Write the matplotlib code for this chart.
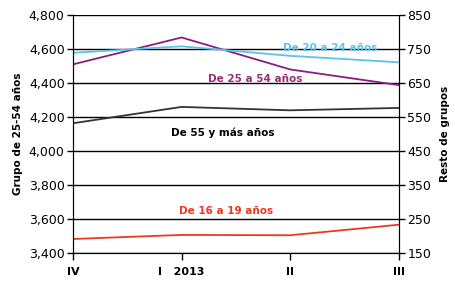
import matplotlib.pyplot as plt

quarters = ['IV', 'I   2013', 'II', 'III']
grupo_25_54 = [4510, 4668, 4480, 4388]
de_20_24 = [739, 758, 730, 711]
de_55_mas = [532, 580, 570, 577]
de_16_19 = [192, 204, 203, 234]

left_ticks = [3400, 3600, 3800, 4000, 4200, 4400, 4600, 4800]
right_ticks = [150, 250, 350, 450, 550, 650, 750, 850]

purple = '#8a1c82'
blue = '#5bc3ec'
red = '#ec3a1f'
dark = '#333333'

fig, ax1 = plt.subplots(figsize=(4.56, 2.83), dpi=100)
fig.subplots_adjust(left=0.16, right=0.875, top=0.947, bottom=0.105)
x = range(len(quarters))

for t in left_ticks:
    ax1.axhline(t, color='black', lw=1.0, zorder=0)

ax2 = ax1.twinx()
ax1.plot(x, grupo_25_54, color=purple, lw=1.3, zorder=3)
ax2.plot(x, de_20_24, color=blue, lw=1.3)
ax2.plot(x, de_55_mas, color=dark, lw=1.3)
ax2.plot(x, de_16_19, color=red, lw=1.3)

ax1.set_xlim(0, 3)
ax1.set_ylim(3400, 4800)
ax2.set_ylim(150, 850)
ax1.set_yticks(left_ticks)
ax1.set_yticklabels([f'{v:,}' for v in left_ticks])
ax2.set_yticks(right_ticks)
ax1.set_xticks(list(x))
ax1.set_xticklabels(quarters, fontweight='bold', fontsize=8)

for a in (ax1, ax2):
    a.spines['top'].set_visible(False)
    a.tick_params(axis='y', labelsize=9, length=4, width=1, direction='out', pad=2)
ax1.tick_params(axis='x', length=5, width=1, pad=5)

ax1.set_ylabel('Grupo de 25-54 años', fontsize=7.5, fontweight='bold', labelpad=4)
ax2.set_ylabel('Resto de grupos', fontsize=7.5, fontweight='bold', labelpad=6)

ax2.text(1.93, 753, 'De 20 a 24 años', color=blue, fontsize=7.5, fontweight='bold', va='center')
ax1.text(1.24, 4425, 'De 25 a 54 años', color='#9b2d72', fontsize=7.5, fontweight='bold', va='center')
ax2.text(0.90, 505, 'De 55 y más años', color='black', fontsize=7.5, fontweight='bold', va='center')
ax2.text(0.98, 273, 'De 16 a 19 años', color=red, fontsize=7.5, fontweight='bold', va='center')

plt.savefig('out.png', dpi=100)
